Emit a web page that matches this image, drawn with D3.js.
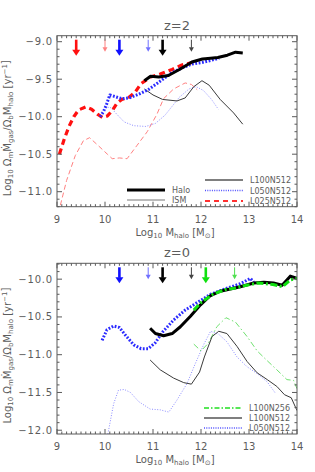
<!DOCTYPE html>
<html>
<head>
<meta charset="utf-8">
<script src="https://cdn.jsdelivr.net/npm/d3@7"></script>
<style>
  body { margin: 0; background: #fff; }
  svg { display: block; }
  text { font-family: "DejaVu Sans", sans-serif; fill: #5c5c5c; }
</style>
</head>
<body>
<script>
// axis ticks
var xTicks = [9, 10, 11, 12, 13, 14];
var yTicksZ2 = [-11.0, -10.5, -10.0, -9.5, -9.0];
var yTicksZ0 = [-12.0, -11.5, -11.0, -10.5, -10.0];

// z=2 curves [log Mhalo, log rate]
var z2HaloL100N512 = [[10.82,-9.52],[10.95,-9.46],[11.12,-9.47],[11.32,-9.45],[11.55,-9.37],[11.81,-9.27],[12.03,-9.23],[12.2,-9.22],[12.35,-9.21],[12.55,-9.18],[12.72,-9.14],[12.87,-9.15]];
var z2HaloL050N512 = [[9.9,-10.0],[9.97,-9.93],[10.03,-9.84],[10.1,-9.71],[10.2,-9.73],[10.35,-9.76],[10.5,-9.75],[10.7,-9.7],[10.9,-9.64],[11.1,-9.55],[11.4,-9.41],[11.6,-9.35],[11.8,-9.3],[12.0,-9.28],[12.2,-9.25],[12.38,-9.22]];
var z2HaloL025N512 = [[9.05,-10.5],[9.15,-10.3],[9.25,-10.13],[9.35,-10.0],[9.45,-9.91],[9.6,-9.87],[9.72,-9.9],[9.85,-9.97],[9.95,-10.01],[10.05,-9.99],[10.15,-9.92],[10.25,-9.82],[10.35,-9.77],[10.5,-9.74],[10.62,-9.68],[10.75,-9.56],[10.95,-9.47],[11.15,-9.43],[11.4,-9.37],[11.6,-9.31],[11.8,-9.28]];
var z2IsmL100N512 = [[10.82,-9.63],[11.0,-9.71],[11.2,-9.77],[11.5,-9.79],[11.67,-9.75],[11.85,-9.6],[12.02,-9.52],[12.17,-9.58],[12.4,-9.77],[12.68,-9.95],[12.87,-10.1]];
var z2IsmL050N512 = [[10.0,-9.87],[10.12,-9.88],[10.25,-9.97],[10.4,-10.07],[10.6,-10.12],[10.85,-10.13],[11.05,-10.09],[11.25,-9.98],[11.4,-9.86],[11.55,-9.74],[11.75,-9.63],[11.9,-9.6],[12.05,-9.65],[12.22,-9.77],[12.36,-9.9]];
var z2IsmL025N512 = [[9.07,-11.18],[9.2,-10.85],[9.38,-10.52],[9.55,-10.32],[9.68,-10.28],[9.85,-10.38],[10.05,-10.5],[10.15,-10.56],[10.3,-10.55],[10.46,-10.56],[10.67,-10.38],[10.88,-10.2],[11.08,-9.97],[11.22,-9.76],[11.43,-9.63],[11.67,-9.55],[11.8,-9.57],[11.92,-9.64]];

// z=0 curves
var z0HaloL100N256 = [[11.85,-10.41],[12.0,-10.31],[12.25,-10.2],[12.5,-10.14],[12.7,-10.12],[12.95,-10.08],[13.2,-10.05],[13.5,-10.07],[13.7,-10.1],[13.86,-10.01],[14.0,-9.99]];
var z0HaloL100N512 = [[10.94,-10.65],[11.05,-10.72],[11.22,-10.75],[11.4,-10.72],[11.57,-10.63],[11.78,-10.49],[11.99,-10.34],[12.19,-10.22],[12.4,-10.16],[12.61,-10.13],[12.82,-10.1],[13.1,-10.05],[13.31,-10.04],[13.51,-10.05],[13.69,-10.08],[13.86,-9.96],[14.0,-9.99]];
var z0HaloL050N512 = [[9.94,-10.81],[10.04,-10.67],[10.18,-10.62],[10.3,-10.64],[10.45,-10.76],[10.6,-10.87],[10.75,-10.92],[10.9,-10.92],[11.05,-10.84],[11.2,-10.7],[11.43,-10.54],[11.67,-10.41],[11.92,-10.31],[12.2,-10.2],[12.54,-10.12],[12.82,-10.06],[13.03,-9.99],[13.1,-10.04]];
var z0IsmL100N256 = [[11.85,-10.86],[12.0,-10.95],[12.15,-10.85],[12.33,-10.63],[12.52,-10.51],[12.72,-10.57],[12.96,-10.76],[13.17,-10.95],[13.38,-11.08],[13.58,-11.2],[13.79,-11.33],[13.93,-11.34],[14.0,-11.45]];
var z0IsmL100N512 = [[10.94,-11.07],[11.15,-11.2],[11.43,-11.31],[11.64,-11.37],[11.8,-11.39],[11.97,-11.23],[12.07,-11.03],[12.23,-10.76],[12.37,-10.69],[12.54,-10.72],[12.75,-10.89],[12.96,-11.09],[13.17,-11.24],[13.38,-11.33],[13.58,-11.42],[13.74,-11.53],[13.88,-11.57],[14.0,-11.74]];
var z0IsmL050N512 = [[10.06,-12.05],[10.18,-11.65],[10.28,-11.47],[10.4,-11.46],[10.53,-11.5],[10.7,-11.62],[10.94,-11.72],[11.15,-11.73],[11.33,-11.76],[11.5,-11.6],[11.71,-11.38],[11.88,-11.12],[12.06,-10.86],[12.2,-10.69],[12.37,-10.73],[12.54,-10.83],[12.75,-11.03],[12.96,-11.16],[13.17,-11.25],[13.38,-11.36],[13.55,-11.51]];

// arrow masses
var arrowsZ2 = [9.4, 10.0, 10.3, 10.9, 11.2, 11.8];
var arrowsZ0 = [10.3, 10.9, 11.2, 11.8, 12.1, 12.7];

// line styles
var sty = {
  blackThick: { color: "#000", w: 3, dash: null },
  blackThin: { color: "#3a3a3a", w: 1, dash: null },
  blueThick: { color: "#2a2aff", w: 3, dash: "1.8,1.6" },
  blueThin: { color: "#8c8cff", w: 1, dash: "1,1.6" },
  redThick: { color: "#ff1010", w: 3.2, dash: "6,4" },
  redThin: { color: "#ff8080", w: 1, dash: "5,3" },
  greenThick: { color: "#10e010", w: 3, dash: "7,2.5,2,2.5" },
  greenThin: { color: "#70e070", w: 1, dash: "6,2.5,1.5,2.5" }
};

var W = 315, H = 472;
var x0 = 57, x1 = 297;

var svg = d3.select("body").append("svg").attr("width", W).attr("height", H);

function drawPanel(p) {
  var x = d3.scaleLinear().domain([9, 14]).range([x0, x1]);
  var y = d3.scaleLinear().domain(p.ydom).range([p.bottom, p.top]);
  var g = svg.append("g");

  g.append("clipPath").attr("id", p.id).append("rect")
    .attr("x", x0).attr("y", p.top).attr("width", x1 - x0).attr("height", p.bottom - p.top);

  var line = d3.line().x(function (d) { return x(d[0]); }).y(function (d) { return y(d[1]); });

  var lg = g.append("g").attr("clip-path", "url(#" + p.id + ")");
  p.series.forEach(function (s) {
    lg.append("path").datum(s.data)
      .attr("d", line)
      .attr("fill", "none")
      .attr("stroke", s.st.color)
      .attr("stroke-width", s.st.w)
      .attr("stroke-dasharray", s.st.dash)
      .attr("stroke-linejoin", "round");
  });

  // arrows
  p.arrows.forEach(function (a) {
    var ax = x(a.m), top = p.top + 4;
    var len = a.thick ? 16 : 12, hl = a.thick ? 6 : 4.5, hw = a.thick ? 4 : 2.5;
    g.append("line").attr("x1", ax).attr("x2", ax).attr("y1", top).attr("y2", top + len - hl + 0.5)
      .attr("stroke", a.color).attr("stroke-width", a.thick ? 2.6 : 1);
    g.append("path")
      .attr("d", "M" + (ax - hw) + "," + (top + len - hl) + "L" + (ax + hw) + "," + (top + len - hl) + "L" + ax + "," + (top + len) + "Z")
      .attr("fill", a.color);
  });

  // frame + ticks
  var fc = "#5a5a5a";
  g.append("rect").attr("x", x0).attr("y", p.top).attr("width", x1 - x0).attr("height", p.bottom - p.top)
    .attr("fill", "none").attr("stroke", fc).attr("stroke-width", 1);

  var xMinor = d3.range(90, 141).map(function (v) { return v / 10; });
  xMinor.forEach(function (v) {
    var major = Math.abs(v - Math.round(v)) < 1e-6;
    var l = major ? 5 : 2.5;
    g.append("line").attr("x1", x(v)).attr("x2", x(v)).attr("y1", p.bottom).attr("y2", p.bottom - l).attr("stroke", fc);
    g.append("line").attr("x1", x(v)).attr("x2", x(v)).attr("y1", p.top).attr("y2", p.top + l).attr("stroke", fc);
  });
  var lo = Math.ceil(p.ydom[0] * 10), hi = Math.floor(p.ydom[1] * 10);
  d3.range(lo, hi + 1).forEach(function (k) {
    var v = k / 10;
    var major = k % 5 === 0;
    var l = major ? 5 : 2.5;
    g.append("line").attr("y1", y(v)).attr("y2", y(v)).attr("x1", x0).attr("x2", x0 + l).attr("stroke", fc);
    g.append("line").attr("y1", y(v)).attr("y2", y(v)).attr("x1", x1).attr("x2", x1 - l).attr("stroke", fc);
  });

  // tick labels
  xTicks.forEach(function (v) {
    g.append("text").attr("x", x(v)).attr("y", p.bottom + 16)
      .attr("text-anchor", "middle").style("font-size", "10px").text(v);
  });
  p.yticks.forEach(function (v) {
    g.append("text").attr("x", x0 - 4).attr("y", y(v) + 3.5)
      .attr("text-anchor", "end").style("font-size", "10px").style("letter-spacing", "0.8px")
      .text("\u2212" + Math.abs(v).toFixed(1));
  });

  // title
  g.append("text").attr("x", (x0 + x1) / 2).attr("y", p.top - 6)
    .attr("text-anchor", "middle").style("font-size", "13px").text(p.title);

  // x label
  var xl = g.append("text").attr("x", (x0 + x1) / 2 - 2).attr("y", p.bottom + 29)
    .attr("text-anchor", "middle").style("font-size", "10px");
  xl.append("tspan").text("Log");
  xl.append("tspan").attr("dy", 2).style("font-size", "7px").text("10");
  xl.append("tspan").attr("dy", -2).text(" M");
  xl.append("tspan").attr("dy", 2).style("font-size", "7px").text("halo");
  xl.append("tspan").attr("dy", -2).text(" [M");
  xl.append("tspan").attr("dy", 2).style("font-size", "7px").text("\u2299");
  xl.append("tspan").attr("dy", -2).text("]");

  // y label
  var yc = (p.top + p.bottom) / 2 + 7;
  var yl = g.append("text").attr("transform", "translate(11," + yc + ") rotate(-90)")
    .attr("text-anchor", "middle").style("font-size", "10px");
  var sub = function (t) { yl.append("tspan").attr("dy", 2).style("font-size", "7px").text(t); };
  var nor = function (t) { yl.append("tspan").attr("dy", -2).text(t); };
  yl.append("tspan").text("Log");
  sub("10"); nor(" \u03A9"); sub("m"); nor("\u1E40"); sub("gas"); nor("/\u03A9"); sub("b"); nor("M"); sub("halo");
  nor(" [yr");
  yl.append("tspan").attr("dy", -4).style("font-size", "7px").text("\u22121");
  yl.append("tspan").attr("dy", 2).text("]");

  // legend
  p.legend.forEach(function (e) {
    g.append("line").attr("x1", e.x).attr("x2", e.x + 38).attr("y1", e.y).attr("y2", e.y)
      .attr("stroke", e.st.color).attr("stroke-width", e.st.w).attr("stroke-dasharray", e.st.dash);
    g.append("text").attr("x", e.x + 45).attr("y", e.y + 3)
      .style("font-size", "8px").text(e.label);
  });
}

drawPanel({
  id: "clipTop", title: "z=2", top: 35.7, bottom: 206.7, ydom: [-11.2, -8.92], yticks: yTicksZ2,
  series: [
    { data: z2IsmL025N512, st: sty.redThin },
    { data: z2IsmL050N512, st: sty.blueThin },
    { data: z2IsmL100N512, st: sty.blackThin },
    { data: z2HaloL025N512, st: sty.redThick },
    { data: z2HaloL050N512, st: sty.blueThick },
    { data: z2HaloL100N512, st: sty.blackThick }
  ],
  arrows: [
    { m: arrowsZ2[0], color: "#ff1010", thick: true },
    { m: arrowsZ2[1], color: "#ff8080", thick: false },
    { m: arrowsZ2[2], color: "#1010ff", thick: true },
    { m: arrowsZ2[3], color: "#7070ff", thick: false },
    { m: arrowsZ2[4], color: "#000", thick: true },
    { m: arrowsZ2[5], color: "#444", thick: false }
  ],
  legend: [
    { x: 127, y: 190, st: { color: "#000", w: 3.2, dash: null }, label: "Halo" },
    { x: 127, y: 200, st: { color: "#777", w: 1, dash: null }, label: "ISM" },
    { x: 205, y: 180, st: { color: "#000", w: 1.2, dash: null }, label: "L100N512" },
    { x: 205, y: 190.5, st: { color: "#5050ff", w: 1.3, dash: "1,1.3" }, label: "L050N512" },
    { x: 205, y: 201, st: { color: "#ff3030", w: 1.8, dash: "5,4" }, label: "L025N512" }
  ]
});

drawPanel({
  id: "clipBot", title: "z=0", top: 263.3, bottom: 434, ydom: [-12.05, -9.79], yticks: yTicksZ0,
  series: [
    { data: z0IsmL050N512, st: sty.blueThin },
    { data: z0IsmL100N256, st: sty.greenThin },
    { data: z0IsmL100N512, st: sty.blackThin },
    { data: z0HaloL050N512, st: sty.blueThick },
    { data: z0HaloL100N512, st: sty.blackThick },
    { data: z0HaloL100N256, st: sty.greenThick }
  ],
  arrows: [
    { m: arrowsZ0[0], color: "#1010ff", thick: true },
    { m: arrowsZ0[1], color: "#7070ff", thick: false },
    { m: arrowsZ0[2], color: "#000", thick: true },
    { m: arrowsZ0[3], color: "#444", thick: false },
    { m: arrowsZ0[4], color: "#10e010", thick: true },
    { m: arrowsZ0[5], color: "#50e050", thick: false }
  ],
  legend: [
    { x: 204, y: 408, st: { color: "#20e020", w: 1.3, dash: "5,2,1.5,2" }, label: "L100N256" },
    { x: 204, y: 418, st: { color: "#000", w: 1.2, dash: null }, label: "L100N512" },
    { x: 204, y: 428, st: { color: "#5050ff", w: 1.3, dash: "1,1.3" }, label: "L050N512" }
  ]
});
</script>
</body>
</html>
